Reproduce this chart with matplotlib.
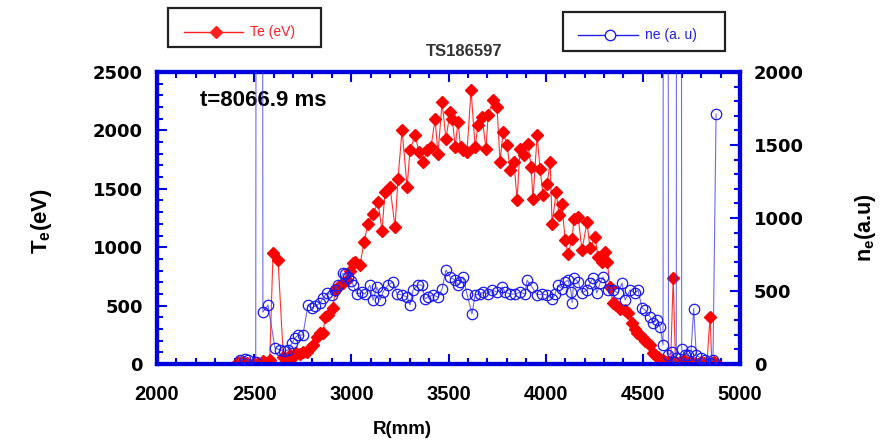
import matplotlib
matplotlib.use('Agg')
import matplotlib.pyplot as plt
from matplotlib.ticker import MultipleLocator
from matplotlib.font_manager import FontProperties
from matplotlib.patches import Rectangle
from matplotlib.lines import Line2D

plt.rcParams['mathtext.fontset'] = 'custom'
plt.rcParams['mathtext.rm'] = 'Liberation Sans'
plt.rcParams['mathtext.bf'] = 'Liberation Sans:bold'

# Te profile (R in mm, Te in eV)
r_te = [2415, 2440, 2462, 2500, 2520, 2545, 2563, 2580, 2597, 2623, 2650, 2662,
        2674, 2684, 2700, 2715, 2736, 2751, 2772, 2787, 2803, 2823, 2839, 2854,
        2866, 2880, 2906, 2916, 2932, 2957, 2978, 2993, 3009, 3019, 3045, 3065,
        3086, 3112, 3137, 3158, 3173, 3199, 3225, 3240, 3261, 3287, 3302, 3328,
        3348, 3369, 3390, 3410, 3431, 3446, 3467, 3487, 3508, 3520, 3534, 3549,
        3562, 3575, 3595, 3616, 3637, 3652, 3673, 3693, 3704, 3729, 3750, 3765,
        3781, 3801, 3817, 3837, 3853, 3868, 3889, 3909, 3925, 3935, 3956, 3971,
        3987, 4007, 4023, 4033, 4054, 4069, 4084, 4100, 4115, 4136, 4146, 4167,
        4187, 4213, 4228, 4254, 4270, 4290, 4306, 4318, 4330, 4347, 4360, 4383,
        4409, 4424, 4445, 4460, 4470, 4485, 4496, 4511, 4522, 4537, 4553, 4565,
        4578, 4590, 4604, 4617, 4630, 4643, 4656, 4668, 4676, 4690, 4700, 4712,
        4725, 4740, 4755, 4770, 4785, 4800, 4815, 4830, 4846, 4855, 4868, 4880]
te = [15, 20, 8, 0, 12, 22, 8, 30, 950, 890, 60, 20,
      35, 75, 60, 95, 85, 100, 105, 137, 163, 231, 265, 265,
      402, 420, 479, 633, 659, 693, 719, 800, 865, 873, 848, 1045,
      1199, 1284, 1387, 1139, 1473, 1515, 1173, 1584, 2003, 1515, 1832, 1961,
      1815, 1729, 1832, 1858, 2098, 1798, 2243, 1926, 2157, 2100, 1860, 2072,
      1860, 1832, 1815, 2346, 1858, 2046, 2115, 1841, 2132, 2260, 2200, 1729,
      1986, 1875, 1661, 1729, 1404, 1841, 1789, 1884, 1687, 1413, 1961, 1669,
      1447, 1541, 1729, 1199, 1473, 1276, 1370, 1062, 942, 1070, 1241, 1259,
      976, 1216, 993, 1087, 916, 873, 960, 870, 660, 520, 505, 470,
      462, 437, 351, 300, 265, 245, 231, 200, 188, 163, 94, 77,
      60, 45, 34, 20, 17, 10, 736, 20, 8, 17, 5, 30,
      10, 20, 5, 10, 0, 15, 5, 10, 402, 5, 15, 0]

# ne profile (R in mm, ne in a.u.)
r_ne = [2427, 2453, 2468, 2508, 2527, 2545, 2571, 2607, 2633, 2655, 2674, 2695,
        2710, 2726, 2751, 2777, 2797, 2813, 2839, 2854, 2875, 2901, 2916, 2932,
        2957, 2968, 2983, 3000, 3009, 3029, 3055, 3070, 3096, 3112, 3132, 3148,
        3163, 3189, 3215, 3235, 3261, 3287, 3302, 3318, 3343, 3364, 3379, 3395,
        3420, 3446, 3467, 3487, 3508, 3534, 3549, 3559, 3575, 3595, 3621, 3637,
        3662, 3678, 3704, 3724, 3750, 3776, 3791, 3817, 3842, 3868, 3894, 3904,
        3930, 3956, 3981, 4007, 4033, 4048, 4064, 4084, 4100, 4115, 4131, 4136,
        4146, 4167, 4187, 4213, 4228, 4244, 4264, 4280, 4295, 4321, 4347, 4372,
        4393, 4409, 4434, 4460, 4475, 4496, 4511, 4537, 4553, 4573, 4589, 4604,
        4615, 4632, 4648, 4660, 4672, 4685, 4700, 4718, 4733, 4748, 4762, 4775,
        4800, 4820, 4846, 4861, 4877]
ne = [27, 34, 27, 15, 30000, 356, 404, 110, 96, 90, 96, 144,
      178, 199, 199, 404, 384, 397, 418, 452, 486, 473, 507, 541,
      620, 616, 596, 570, 541, 479, 493, 479, 541, 438, 527, 438,
      493, 541, 562, 479, 473, 459, 404, 507, 541, 541, 445, 459,
      473, 459, 514, 644, 596, 575, 541, 562, 596, 479, 342, 473,
      479, 493, 479, 507, 493, 527, 493, 479, 479, 493, 479, 575,
      527, 473, 479, 473, 445, 479, 541, 514, 562, 575, 493, 420,
      589, 562, 486, 507, 555, 589, 486, 555, 596, 507, 507, 486,
      555, 438, 507, 486, 507, 384, 370, 322, 281, 301, 253, 130,
      30000, 60, 80, 15, 40, 30000, 100, 60, 62, 90, 380, 60,
      40, 30, 10, 30, 1712]

x_ticks = [2000, 2500, 3000, 3500, 4000, 4500, 5000]
te_ticks = [0, 500, 1000, 1500, 2000, 2500]
ne_ticks = [0, 500, 1000, 1500, 2000]

blue = '#0000dd'
W, H = 889, 445

fig = plt.figure(figsize=(W / 100, H / 100), dpi=100)
ax = fig.add_axes([157 / W, 1 - 364 / H, 583 / W, 292 / H])
ax2 = ax.twinx()

ax.plot(r_te, te, '-', color='#ff3030', lw=0.8, marker='D', ms=6.5,
        mfc='red', mec='red', zorder=3)
ax2.plot(r_ne, ne, '-', color='#3a3ae6', lw=0.8, alpha=0.75, zorder=3)
ax2.plot(r_ne, ne, 'o', ms=7.5, mfc='none', mec='#1a1aee', mew=0.9, zorder=4)

ax.set_xlim(2000, 5000)
ax.set_ylim(0, 2500)
ax2.set_ylim(0, 2000)
ax.set_xticks(x_ticks)
ax.set_yticks(te_ticks)
ax2.set_yticks(ne_ticks)
ax.xaxis.set_minor_locator(MultipleLocator(100))
ax.yaxis.set_minor_locator(MultipleLocator(100))
ax2.yaxis.set_minor_locator(MultipleLocator(100))

for a in (ax, ax2):
    for s in a.spines.values():
        s.set_color(blue)
        s.set_linewidth(3)
ax.tick_params(axis='x', which='both', direction='in', top=True, color=blue,
               width=1.5, pad=15)
ax.tick_params(axis='y', which='both', direction='in', right=False, color=blue,
               width=1.5, pad=10)
ax2.tick_params(axis='y', which='both', direction='in', right=True, color=blue,
                width=1.5, pad=10)
for a in (ax, ax2):
    a.tick_params(which='major', length=7)
    a.tick_params(which='minor', length=4)

fx = FontProperties(family='Liberation Sans', weight='bold', size=14.5)
fy = FontProperties(family='DejaVu Sans', weight='bold', size=13)
for lab in ax.get_xticklabels():
    lab.set_fontproperties(fx)
for lab in ax.get_yticklabels() + ax2.get_yticklabels():
    lab.set_fontproperties(fy)

fig.text(402 / W, 1 - 430 / H, 'R(mm)', ha='center', va='center',
         family='Liberation Sans', weight='bold', size=13.5)
fig.text(42 / W, 1 - 221 / H, r'T$_\mathbf{e}$(eV)', rotation=90,
         ha='center', va='center', family='Liberation Sans', weight='bold', size=16)
fig.text(865 / W, 1 - 228 / H, r'n$_\mathbf{e}$(a.u)', rotation=90,
         ha='center', va='center', family='Liberation Sans', weight='bold', size=15.5)
fig.text(464 / W, 1 - 52 / H, 'TS186597', ha='center', va='center',
         family='Liberation Sans', weight='bold', size=12, color='#333333')
ax.text((200 - 157) / 583, (364 - 100) / 292, 't=8066.9 ms', transform=ax.transAxes,
        ha='left', va='center', family='Liberation Sans', weight='bold', size=16)

# legend boxes above the axes
def legend_box(x0, y0, x1, y1, ly, lx0, lx1, mx, marker, color, label):
    fig.add_artist(Rectangle((x0 / W, 1 - y1 / H), (x1 - x0) / W, (y1 - y0) / H,
                             transform=fig.transFigure, facecolor='white',
                             edgecolor='#222222', lw=1.6))
    fig.add_artist(Line2D([lx0 / W, lx1 / W], [1 - ly / H, 1 - ly / H],
                          transform=fig.transFigure, color=color, lw=1))
    if marker == 'D':
        fig.add_artist(Line2D([mx / W], [1 - ly / H], transform=fig.transFigure,
                              marker='D', ms=6, mfc=color, mec=color))
    else:
        fig.add_artist(Line2D([mx / W], [1 - ly / H], transform=fig.transFigure,
                              marker='o', ms=7.5, mfc='white', mec=color, mew=1))
    fig.text((lx1 + 7) / W, 1 - ly / H, label, ha='left', va='center', color=color,
             family='Liberation Sans', size=10)

legend_box(168, 8, 321, 47, 32, 184, 243, 216, 'D', '#ff2020', 'Te (eV)')
legend_box(563, 12, 725, 51, 35, 578, 638, 610, 'o', '#2020ee', 'ne (a. u)')

fig.savefig('out.png', dpi=100)
